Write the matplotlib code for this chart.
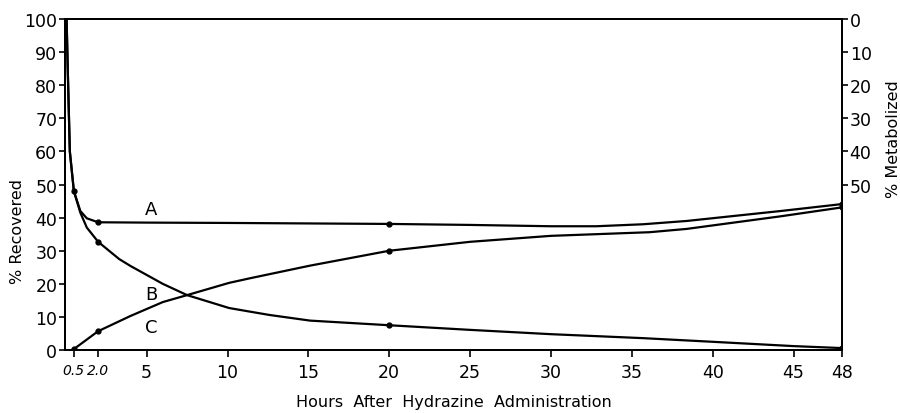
import matplotlib
matplotlib.use("Agg")
import matplotlib.pyplot as plt

# ---- data ----
# Curve A (total recovered) trace
a_x = [0.05, 0.12, 0.25, 0.5, 0.9, 1.3, 2.0, 5.0, 10.0, 20.0, 25.0, 30.0, 32.8, 35.7, 38.4, 44.2, 48.0]
a_y = [100, 85, 60, 48, 42, 39.8, 38.6, 38.5, 38.4, 38.1, 37.8, 37.4, 37.4, 38.0, 39.0, 42.0, 44.1]
# Descending curve (hydrazine) trace
d_x = [0.05, 0.12, 0.25, 0.5, 0.9, 1.3, 2.0, 3.3, 4.0, 6.0, 7.5, 10.1, 11.4, 12.6, 15.1, 20.0, 25.0, 30.0, 35.7, 40.0, 45.0, 48.0]
d_y = [100, 85, 60, 48, 41.5, 37.0, 32.7, 27.5, 25.4, 20.0, 16.6, 12.7, 11.6, 10.6, 8.9, 7.5, 6.1, 4.8, 3.6, 2.5, 1.2, 0.6]
# Rising curve (metabolite) trace
r_x = [0.5, 2.0, 4.0, 6.0, 7.5, 10.1, 11.4, 15.1, 20.0, 25.0, 30.0, 36.1, 38.4, 44.2, 48.0]
r_y = [0.3, 5.7, 10.3, 14.5, 16.6, 20.3, 21.7, 25.5, 30.0, 32.7, 34.5, 35.6, 36.6, 40.4, 43.1]

# measured points (dots)
a_pts_x = [2.0, 20.0, 48.0]
a_pts_y = [38.6, 38.1, 44.1]
d_pts_x = [0.5, 2.0, 20.0, 48.0]
d_pts_y = [48, 32.7, 7.5, 0.6]
r_pts_x = [0.5, 2.0, 20.0, 48.0]
r_pts_y = [0.3, 5.7, 30.0, 43.1]

x_ticks = [0.5, 2.0, 5, 10, 15, 20, 25, 30, 35, 40, 45, 48]
x_ticklabels = ["0.5", "2.0", "5", "10", "15", "20", "25", "30", "35", "40", "45", "48"]
y_ticks = [0, 10, 20, 30, 40, 50, 60, 70, 80, 90, 100]
y2_ticks = [0, 10, 20, 30, 40, 50]

curve_labels = ["A", "B", "C"]
curve_label_x = [5.3, 5.3, 5.3]
curve_label_y = [42.6, 16.9, 6.9]

plt.rcParams['font.family'] = ['DejaVu Sans']

fig = plt.figure(figsize=(9, 4.14), dpi=100)
ax = fig.add_axes([0.0722, 0.152, 0.8634, 0.7997])

lw = 1.6
ax.plot(a_x, a_y, color='black', lw=lw)
ax.plot(d_x, d_y, color='black', lw=lw)
ax.plot(r_x, r_y, color='black', lw=lw)
for px, py in [(a_pts_x, a_pts_y), (d_pts_x, d_pts_y), (r_pts_x, r_pts_y)]:
    ax.plot(px, py, 'o', color='black', ms=3.5)

for t, x, y in zip(curve_labels, curve_label_x, curve_label_y):
    ax.text(x, y, t, fontsize=13, ha='center', va='center')

ax.set_xlim(-0.05, 48)
ax.set_ylim(0, 100)
ax.set_xticks(x_ticks)
ax.set_xticklabels(x_ticklabels, fontsize=12.5)
for lbl in ax.get_xticklabels()[:2]:
    lbl.set_fontstyle('italic')
    lbl.set_fontsize(10)
ax.set_yticks(y_ticks)
ax.set_yticklabels([str(v) for v in y_ticks], fontsize=12.5)
ax.tick_params(axis='y', direction='out', length=4, width=1.2, pad=1.5)
ax.tick_params(axis='x', direction='out', length=5, width=1.2, pad=4)

for s in ax.spines.values():
    s.set_linewidth(1.4)

ax.set_xlabel("Hours  After  Hydrazine  Administration", fontsize=11.5, labelpad=10)
ax.set_ylabel("% Recovered", fontsize=11.5)
ax.yaxis.set_label_coords(-0.052, 0.36)

ax2 = ax.twinx()
ax2.set_ylim(100, 0)
ax2.set_yticks(y2_ticks)
ax2.set_yticklabels([str(v) for v in y2_ticks], fontsize=12.5)
ax2.tick_params(direction='out', length=4, width=1.2, pad=1.5)
ax2.set_ylabel("% Metabolized", fontsize=11.5)
ax2.yaxis.set_label_coords(1.057, 0.64)
for s in ax2.spines.values():
    s.set_linewidth(1.4)

fig.savefig("out.png", dpi=100)
